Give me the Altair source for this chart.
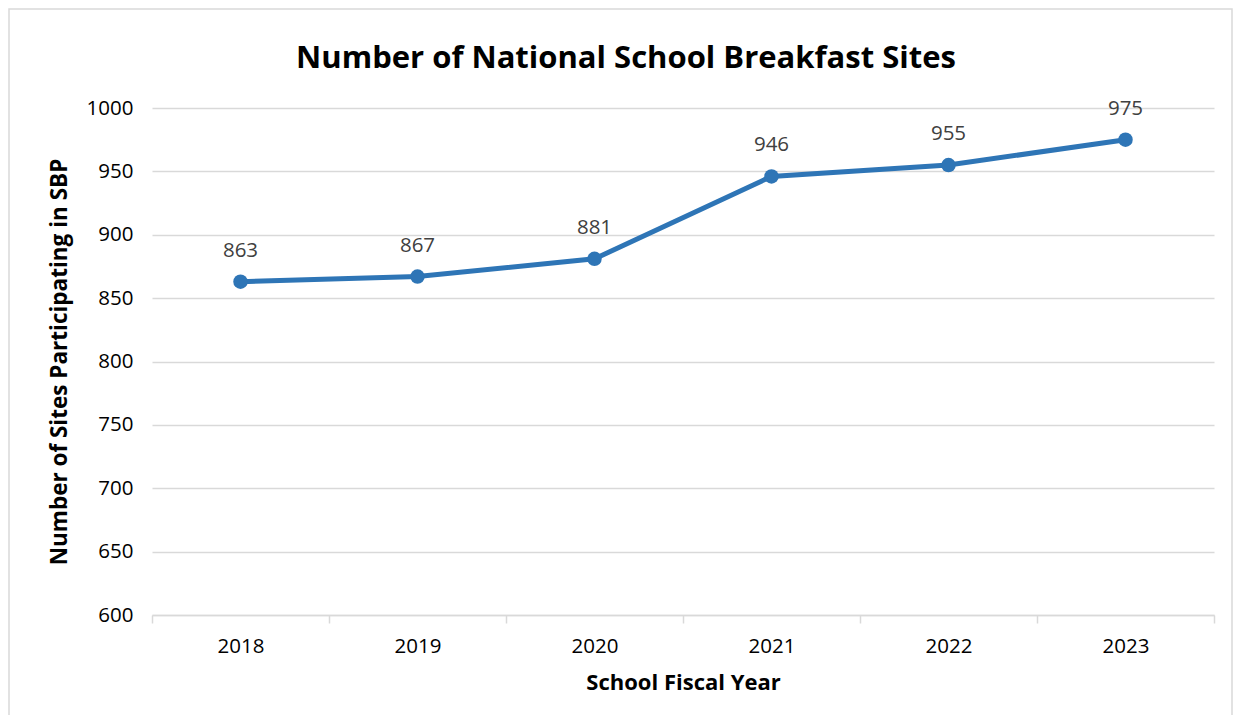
import altair as alt
import pandas as pd

years = ["2018", "2019", "2020", "2021", "2022", "2023"]
sites = [863, 867, 881, 946, 955, 975]
chart_title = "Number of National School Breakfast Sites"

df = pd.DataFrame({"year": years, "sites": sites})

FONT = "Open Sans"
W, H = 1062, 507

x = alt.X("year:N", sort=years, title="School Fiscal Year",
          scale=alt.Scale(type="band", paddingInner=0, paddingOuter=0),
          axis=alt.Axis(labelAngle=0, tickBand="extent", tickSize=8, tickColor="#d9d9d9",
                        tickWidth=1.5, domainColor="#d9d9d9", domainWidth=1.5,
                        labelFontSize=20.5, labelColor="#000000", labelPadding=13,
                        titleFontSize=22, titleFontWeight="bold", titlePadding=16,
                        titleColor="#000000", grid=False))
y = alt.Y("sites:Q", title="Number of Sites Participating in SBP",
          scale=alt.Scale(domain=[600, 1000], nice=False, zero=False),
          axis=alt.Axis(values=list(range(600, 1001, 50)), format="d", domain=False, ticks=False,
                        labelFontSize=20.5, labelColor="#000000", labelPadding=19,
                        gridColor="#d9d9d9", gridWidth=1.5,
                        titleFontSize=22.5, titleFontWeight="bold", titlePadding=15,
                        titleColor="#000000"))

base = alt.Chart(df)
line = base.mark_line(color="#2E75B6", strokeWidth=5).encode(x=x, y=y)
pts = base.mark_point(filled=True, size=210, color="#2E75B6", opacity=1).encode(x=x, y=y)
labels = base.mark_text(fontSize=20.5, color="#404040", dy=-25, baseline="alphabetic",
                        font=FONT).encode(x=x, y=y, text="sites:Q")

one = pd.DataFrame({"t": [chart_title]})
border = alt.Chart(one).mark_rect(
    fill=None, stroke="#d9d9d9", strokeWidth=1.5
).encode(x=alt.value(-143), x2=alt.value(1080), y=alt.value(-99), y2=alt.value(640))
title = alt.Chart(one).mark_text(fontSize=31, fontWeight="bold", font=FONT, color="#000000",
                                 baseline="alphabetic", align="center").encode(
    x=alt.value(474), y=alt.value(-40), text="t:N")

chart = alt.layer(border, line, pts, labels, title).properties(
    width=W, height=H,
    autosize=alt.AutoSizeParams(type="none"),
    padding={"left": 144, "top": 100, "right": 20, "bottom": 100},
).configure(font=FONT).configure_view(stroke=None).configure_axis(labelFont=FONT, titleFont=FONT)

chart.save("out.html", embed_options={"renderer": "svg", "actions": False})
